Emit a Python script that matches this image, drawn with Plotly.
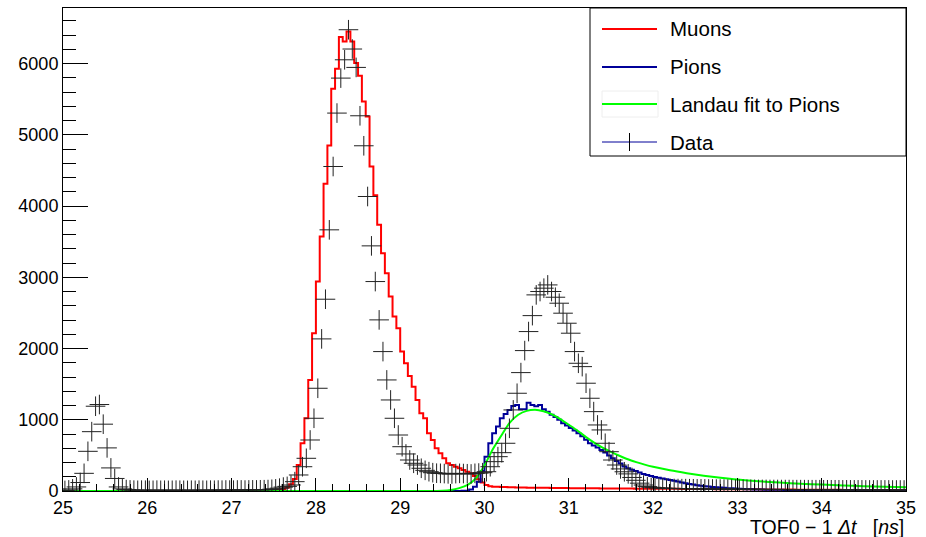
import numpy as np
import plotly.graph_objects as go

# ---------------- data (220 bins from 25 to 35 ns) ----------------
X_MIN, X_MAX, N_BINS = 25.0, 35.0, 220

data_counts = [
    8, 15, 30, 57, 119, 248, 557, 833, 1190, 1214,
    938, 605, 324, 176, 57, 30, 20, 15, 12, 10,
    12, 11, 9, 10, 12, 10, 11, 9, 10, 12,
    11, 10, 9, 11, 10, 12, 11, 10, 12, 11,
    13, 12, 14, 13, 12, 14, 15, 13, 15, 16,
    15, 17, 18, 20, 24, 30, 40, 55, 65, 84,
    131, 225, 341, 459, 716, 1021, 1442, 2135, 2692, 3666,
    4555, 5305, 5796, 6053, 6475, 6204, 5946, 5267, 4846, 4134,
    3441, 2940, 2402, 1957, 1559, 1278, 1021, 786, 622, 520,
    435, 389, 365, 319, 290, 271, 257, 250, 248, 245,
    240, 239, 244, 248, 245, 242, 239, 248, 252, 257,
    271, 341, 412, 482, 538, 670, 880, 1138, 1372, 1662,
    1971, 2238, 2462, 2753, 2800, 2847, 2893, 2800, 2720, 2636,
    2496, 2355, 2215, 1957, 1793, 1746, 1513, 1302, 1114, 927,
    857, 670, 552, 435, 365, 310, 270, 240, 190, 150,
    110, 84, 62, 52, 46, 42, 40, 38, 36, 35,
    34, 33, 33, 32, 31, 30, 30, 29, 28, 28,
    27, 27, 26, 26, 25, 25, 24, 24, 23, 23,
    23, 22, 22, 22, 21, 21, 21, 20, 20, 20,
    19, 19, 19, 19, 18, 18, 18, 18, 17, 17,
    17, 17, 17, 16, 16, 16, 16, 16, 16, 15,
    15, 15, 15, 15, 15, 15, 14, 14, 14, 14,
]

muon_counts = [
    0, 0, 0, 0, 0, 0, 0, 0, 0, 0,
    0, 0, 0, 0, 0, 0, 0, 0, 0, 0,
    0, 0, 0, 0, 0, 0, 0, 0, 0, 0,
    0, 0, 0, 0, 0, 0, 0, 0, 0, 0,
    0, 0, 0, 0, 0, 0, 0, 0, 0, 0,
    0, 1, 2, 4, 6, 10, 16, 28, 48, 95,
    170, 365, 670, 1021, 1559, 2215, 2940, 3572, 4312, 4850,
    5646, 5927, 6372, 6311, 6451, 6311, 6007, 5829, 5468, 5257,
    4555, 4150, 3736, 3338, 3057, 2729, 2448, 2285, 1957, 1793,
    1615, 1465, 1278, 1091, 1021, 810, 716, 600, 529, 459,
    389, 365, 341, 320, 295, 271, 250, 210, 165, 120,
    85, 68, 60, 58, 56, 55, 54, 52, 50, 49,
    48, 47, 46, 46, 45, 44, 44, 43, 42, 42,
    41, 41, 40, 40, 39, 39, 38, 38, 37, 37,
    36, 36, 36, 35, 35, 35, 34, 34, 34, 33,
    33, 33, 32, 32, 32, 31, 31, 31, 30, 30,
    30, 29, 29, 29, 28, 28, 28, 27, 27, 27,
    26, 26, 26, 25, 25, 25, 24, 24, 24, 23,
    23, 23, 22, 22, 22, 21, 21, 21, 20, 20,
    20, 19, 19, 19, 18, 18, 18, 17, 17, 17,
    16, 16, 16, 15, 15, 15, 14, 14, 14, 13,
    13, 13, 12, 12, 12, 11, 11, 11, 10, 10,
]

pion_counts = [
    0, 0, 0, 0, 0, 0, 0, 0, 0, 0,
    0, 0, 0, 0, 0, 0, 0, 0, 0, 0,
    0, 0, 0, 0, 0, 0, 0, 0, 0, 0,
    0, 0, 0, 0, 0, 0, 0, 0, 0, 0,
    0, 0, 0, 0, 0, 0, 0, 0, 0, 0,
    0, 0, 0, 0, 0, 0, 0, 0, 0, 0,
    0, 0, 0, 0, 0, 0, 0, 0, 0, 0,
    0, 0, 0, 0, 0, 0, 0, 0, 0, 0,
    0, 0, 0, 0, 0, 0, 0, 0, 0, 0,
    0, 0, 0, 0, 0, 0, 0, 0, 0, 0,
    0, 0, 0, 0, 2, 5, 20, 60, 130, 280,
    482, 670, 810, 904, 1021, 1080, 1138, 1194, 1208, 1147,
    1147, 1240, 1208, 1190, 1208, 1147, 1114, 1070, 1040, 1000,
    950, 920, 885, 848, 810, 770, 720, 670, 640, 610,
    575, 540, 500, 460, 420, 385, 345, 320, 300, 280,
    260, 240, 225, 210, 195, 185, 175, 165, 155, 145,
    132, 120, 110, 100, 90, 82, 74, 68, 62, 57,
    52, 48, 44, 40, 37, 34, 31, 28, 26, 24,
    22, 21, 20, 19, 18, 17, 17, 16, 15, 15,
    14, 14, 13, 13, 12, 12, 12, 11, 11, 11,
    10, 10, 10, 10, 9, 9, 9, 9, 9, 8,
    8, 8, 8, 8, 8, 7, 7, 7, 7, 7,
]

# Landau fit curve
landau_t = [25.0, 29.4, 29.5, 29.6, 29.7, 29.8, 29.9, 30.0, 30.1, 30.2,
            30.3, 30.4, 30.5, 30.6, 30.7, 30.8, 30.9, 31.0, 31.1, 31.2,
            31.3, 31.4, 31.5, 31.6, 31.7, 31.8, 31.9, 32.0, 32.2, 32.4,
            32.6, 32.8, 33.0, 33.25, 33.5, 33.75, 34.0, 34.25, 34.5, 34.75, 35.0]
landau_v = [0, 0, 3, 14, 40, 85, 180, 360, 590, 780,
            960, 1070, 1125, 1140, 1120, 1075, 1010, 930, 850, 760,
            680, 610, 550, 495, 445, 405, 370, 340, 290, 250,
            215, 185, 160, 138, 118, 102, 90, 78, 68, 60, 52]

x_ticks = [25, 26, 27, 28, 29, 30, 31, 32, 33, 34, 35]
y_ticks = [0, 1000, 2000, 3000, 4000, 5000, 6000]

assert len(data_counts) == N_BINS
assert len(muon_counts) == N_BINS
assert len(pion_counts) == N_BINS

edges = np.linspace(X_MIN, X_MAX, N_BINS + 1)
centers = 0.5 * (edges[:-1] + edges[1:])

FONT = "Liberation Sans, Arial, Helvetica, sans-serif"
RED = "#ff0000"
BLUE = "#000099"
GREEN = "#00ff00"

fig = go.Figure()

fig.add_trace(go.Scatter(x=edges, y=muon_counts + [muon_counts[-1]], mode="lines",
                         line=dict(color=RED, width=2, shape="hv"), name="Muons",
                         showlegend=False))
fig.add_trace(go.Scatter(x=edges, y=pion_counts + [pion_counts[-1]], mode="lines",
                         line=dict(color=BLUE, width=2, shape="hv"), name="Pions",
                         showlegend=False))
fig.add_trace(go.Scatter(x=landau_t, y=landau_v, mode="lines",
                         line=dict(color=GREEN, width=2, shape="spline", smoothing=0.6),
                         name="Landau fit to Pions", showlegend=False))
fig.add_trace(go.Scatter(x=centers, y=data_counts, mode="markers",
                         marker=dict(symbol="cross-thin", size=14,
                                     line=dict(width=1, color="#222222")),
                         name="Data", showlegend=False))

# ---------------- layout ----------------
L, R, T, B = 63, 20, 8, 46
W, H = 926, 537
pw, ph = W - L - R, H - T - B

def px_x(x):
    return (x - L) / pw

def px_y(y):
    return (H - B - y) / ph

fig.update_layout(
    width=W, height=H,
    margin=dict(l=L, r=R, t=T, b=B),
    paper_bgcolor="white", plot_bgcolor="white",
    font=dict(family=FONT, color="black"),
    showlegend=False,
)
fig.update_xaxes(
    range=[X_MIN, X_MAX], tickvals=x_ticks, ticks="inside", ticklen=13, tickwidth=1,
    tickcolor="black", showline=True, linecolor="black", linewidth=1, mirror=True,
    showgrid=False, zeroline=False, tickfont=dict(size=18, family=FONT, color="black"),
    minor=dict(dtick=0.2, tick0=25, ticks="inside", ticklen=7, tickcolor="black",
               tickwidth=1, showgrid=False),
)
fig.update_yaxes(
    range=[0, 6780], tickvals=y_ticks, ticks="inside", ticklen=25, tickwidth=1,
    tickcolor="black", showline=True, linecolor="black", linewidth=1, mirror=True,
    showgrid=False, zeroline=False, tickfont=dict(size=18, family=FONT, color="black"),
    minor=dict(dtick=200, tick0=0, ticks="inside", ticklen=13, tickcolor="black",
               tickwidth=1, showgrid=False),
)

shapes = []
annotations = []
# legend box
shapes.append(dict(type="rect", xref="paper", yref="paper",
                   x0=px_x(590), x1=1.0, y0=px_y(156), y1=1.0,
                   line=dict(color="black", width=1), fillcolor="white", layer="above"))
shapes.append(dict(type="rect", xref="paper", yref="paper",
                   x0=px_x(602), x1=px_x(658), y0=px_y(117), y1=px_y(91),
                   line=dict(color="#eeeeee", width=1), fillcolor="white", layer="above"))
rows = [("Muons", RED, 2, 29), ("Pions", BLUE, 2, 67),
        ("Landau fit to Pions", GREEN, 2, 104), ("Data", BLUE, 1, 142)]
for label, col, lw, yy in rows:
    shapes.append(dict(type="line", xref="paper", yref="paper",
                       x0=px_x(602), x1=px_x(657), y0=px_y(yy), y1=px_y(yy),
                       line=dict(color=col, width=lw), layer="above"))
    annotations.append(dict(text=label, xref="paper", yref="paper",
                            x=px_x(668), y=px_y(yy), xanchor="left", yanchor="middle",
                            showarrow=False, font=dict(size=20.5, family=FONT, color="black")))
shapes.append(dict(type="line", xref="paper", yref="paper",
                   x0=px_x(629.5), x1=px_x(629.5), y0=px_y(133), y1=px_y(151),
                   line=dict(color="black", width=1), layer="above"))

annotations.append(dict(text="TOF0 \u2212 1 <i>\u0394t</i>\u00a0\u00a0\u00a0[<i>ns</i>]",
                        xref="paper", yref="paper", x=1.0, y=px_y(527),
                        xanchor="right", yanchor="middle", showarrow=False,
                        font=dict(size=19.5, family=FONT, color="black")))

fig.update_layout(shapes=shapes, annotations=annotations)

fig.write_html("out.html", config={"displayModeBar": False},
               post_script="document.body.style.margin='0';")
